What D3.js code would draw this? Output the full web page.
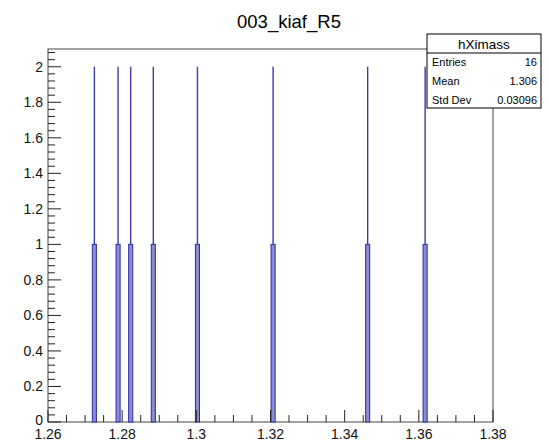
<!DOCTYPE html>
<html><head><meta charset="utf-8">
<script src="https://cdn.jsdelivr.net/npm/d3@7"></script>
<style>
body{margin:0;background:#fff;}
text{font-family:"Liberation Sans",Arial,Helvetica,sans-serif;}
</style></head>
<body><svg id="c" width="549" height="442"></svg>
<script>
// Data
const title = "003_kiaf_R5";
const histName = "hXimass";
const peakCenters = [1.2725, 1.2789, 1.2823, 1.2884, 1.3003, 1.3207, 1.3462, 1.3617];
const spikeCounts = [2, 2, 2, 2, 2, 2, 2, 2];
const shoulderCounts = [1, 1, 1, 1, 1, 1, 1, 1];
const xTicks = [1.26, 1.28, 1.30, 1.32, 1.34, 1.36, 1.38];
const xTickLabels = ["1.26", "1.28", "1.3", "1.32", "1.34", "1.36", "1.38"];
const yTicks = [0, 0.2, 0.4, 0.6, 0.8, 1.0, 1.2, 1.4, 1.6, 1.8, 2.0];
const yTickLabels = ["0", "0.2", "0.4", "0.6", "0.8", "1", "1.2", "1.4", "1.6", "1.8", "2"];
const statLabels = ["Entries", "Mean", "Std Dev"];
const statValues = ["16", "1.306", "0.03096"];

const binWidth = 0.0011;
const svg = d3.select("#c");
const L = 48, R = 493, T = 49, B = 422;
const x = d3.scaleLinear().domain([1.26, 1.38]).range([L, R]);
const y = d3.scaleLinear().domain([0, 2.1]).range([B, T]);

// frame
svg.append("rect").attr("x", L).attr("y", T).attr("width", R - L).attr("height", B - T)
  .attr("fill", "none").attr("stroke", "#444").attr("stroke-width", 1);

// histogram
const g = svg.append("g");
peakCenters.forEach((c, i) => {
  g.append("line").attr("x1", x(c)).attr("x2", x(c))
    .attr("y1", y(shoulderCounts[i])).attr("y2", y(spikeCounts[i]))
    .attr("stroke", "#3a3ab4").attr("stroke-width", 1.4);
  g.append("rect").attr("x", x(c - binWidth / 2)).attr("width", x(c + binWidth / 2) - x(c - binWidth / 2))
    .attr("y", y(shoulderCounts[i])).attr("height", y(0) - y(shoulderCounts[i]))
    .attr("fill", "#8c8cd2").attr("stroke", "#2a2aa8").attr("stroke-width", 1);
});

// x axis ticks
const xMinor = d3.range(0, 25).map(k => 1.26 + k * 0.005);
xMinor.forEach((v, k) => {
  const major = k % 4 === 0;
  svg.append("line").attr("x1", x(v)).attr("x2", x(v)).attr("y1", B).attr("y2", B - (major ? 12 : 7))
    .attr("stroke", "#222").attr("stroke-width", 1);
});
svg.append("g").selectAll("text").data(xTicks).join("text")
  .attr("x", d => x(d)).attr("y", 439).attr("text-anchor", "middle")
  .attr("font-size", 14).attr("fill", "#111").text((d, i) => xTickLabels[i]);

// y axis ticks
const yMinor = d3.range(0, 53).map(k => k * 0.04);
yMinor.forEach((v, k) => {
  if (y(v) < T) return;
  const major = k % 5 === 0;
  svg.append("line").attr("x1", L).attr("x2", L + (major ? 13 : 7)).attr("y1", y(v)).attr("y2", y(v))
    .attr("stroke", "#222").attr("stroke-width", 1);
});
svg.append("g").selectAll("text").data(yTicks).join("text")
  .attr("x", 43).attr("y", d => y(d) + (d === 0 ? 3 : 5)).attr("text-anchor", "end")
  .attr("font-size", 14).attr("fill", "#111").text((d, i) => yTickLabels[i]);

// title
svg.append("text").attr("x", 289).attr("y", 28).attr("text-anchor", "middle")
  .attr("font-size", 18.5).attr("fill", "#000").text(title);

// stats box
const sx = 427, sy = 34, sw = 114, sh = 74, hh = 19;
svg.append("rect").attr("x", sx).attr("y", sy).attr("width", sw).attr("height", sh)
  .attr("fill", "#fff").attr("stroke", "#000").attr("stroke-width", 1);
svg.append("line").attr("x1", sx).attr("x2", sx + sw).attr("y1", sy + hh).attr("y2", sy + hh)
  .attr("stroke", "#000").attr("stroke-width", 1);
svg.append("text").attr("x", sx + sw / 2).attr("y", sy + 15).attr("text-anchor", "middle")
  .attr("font-size", 13.5).text(histName);
statLabels.forEach((s, i) => {
  const yy = 66 + i * 19;
  svg.append("text").attr("x", 432).attr("y", yy).attr("font-size", 11).text(s);
  svg.append("text").attr("x", 537).attr("y", yy).attr("text-anchor", "end").attr("font-size", 11).text(statValues[i]);
});
</script></body></html>
